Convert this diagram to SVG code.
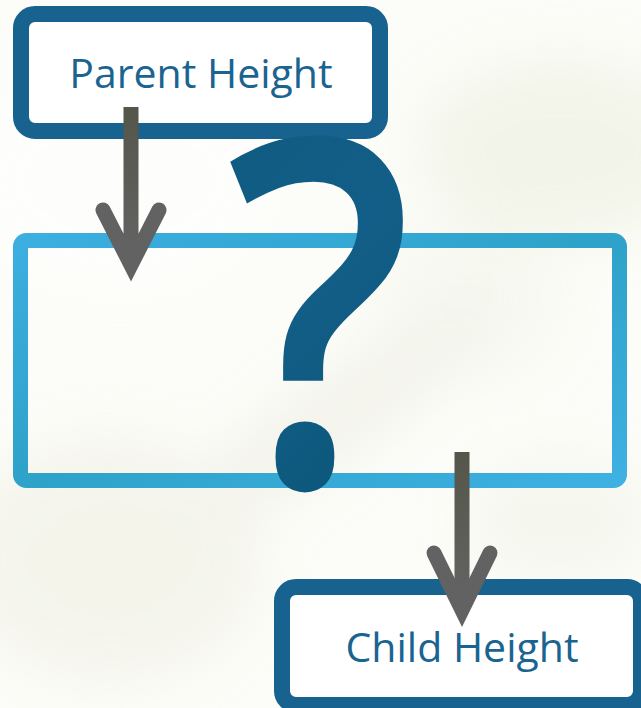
<svg xmlns="http://www.w3.org/2000/svg" width="641" height="708" viewBox="0 0 641 708">
<style>
.nodebox{fill:#ffffff;stroke:#17628e;stroke-width:16}
.label{font-family:"Open Sans","Liberation Sans",sans-serif;font-size:41px;fill:#1a6491;text-anchor:middle}
.shaft{fill:url(#shaftGrad)}
.head{stroke:#626262;stroke-width:15;stroke-linecap:round;stroke-linejoin:miter;fill:none}
</style>
<defs>
<filter id="blur" x="-50%" y="-50%" width="200%" height="200%"><feGaussianBlur stdDeviation="25"/></filter>
<linearGradient id="shaftGrad" x1="0" y1="0" x2="0" y2="1">
<stop offset="0" stop-color="#54564a"/><stop offset="1" stop-color="#646464"/>
</linearGradient>
<linearGradient id="blueGrad" x1="0" y1="0" x2="1" y2="1">
<stop offset="0" stop-color="#3caee0"/><stop offset="0.5" stop-color="#2fa2c9"/><stop offset="1" stop-color="#3eb0e2"/>
</linearGradient>
<linearGradient id="qGrad" x1="0" y1="0" x2="0.3" y2="1">
<stop offset="0" stop-color="#0b597b"/><stop offset="0.55" stop-color="#135e88"/><stop offset="1" stop-color="#0a5677"/>
</linearGradient>
</defs>
<g id="background">
<rect x="0" y="0" width="641" height="708" fill="#fcfcf8"/>
<g filter="url(#blur)" opacity="0.55">
<ellipse cx="120" cy="180" rx="160" ry="120" fill="#ffffff"/>
<ellipse cx="560" cy="150" rx="140" ry="90" fill="#ebeedd"/>
<ellipse cx="470" cy="300" rx="90" ry="80" fill="#f3f5ea"/>
<ellipse cx="110" cy="560" rx="150" ry="120" fill="#eeefe2"/>
<ellipse cx="330" cy="420" rx="200" ry="40" fill="#ecede2" transform="rotate(-35 330 420)"/>
<ellipse cx="560" cy="520" rx="90" ry="60" fill="#f0f2e6"/>
</g>
</g>
<g id="process">
<rect x="20.5" y="240.5" width="599" height="240" rx="6" fill="none" stroke="url(#blueGrad)" stroke-width="15"/>
</g>
<g id="parent">
<rect class="nodebox" x="21" y="14" width="359" height="117" rx="14"/>
<text class="label" x="201" y="88">Parent Height</text>
</g>
<g id="child">
<rect class="nodebox" x="282" y="587" width="359" height="118" rx="14"/>
<text class="label" x="462" y="662">Child Height</text>
</g>
<g id="connectors">
<rect class="shaft" x="123.5" y="107" width="15" height="155"/>
<polyline class="head" points="103,210 131,265 159,210"/>
<rect class="shaft" x="454.5" y="452" width="15" height="155"/>
<polyline class="head" points="434,553 462,610 490,553"/>
</g>
<g id="question">
<text transform="translate(320,486) scale(0.85,1)" x="0" y="0" font-family="Open Sans, Lato, sans-serif" font-weight="600" font-size="484" text-anchor="middle" fill="url(#qGrad)">?</text>
</g>
</svg>
